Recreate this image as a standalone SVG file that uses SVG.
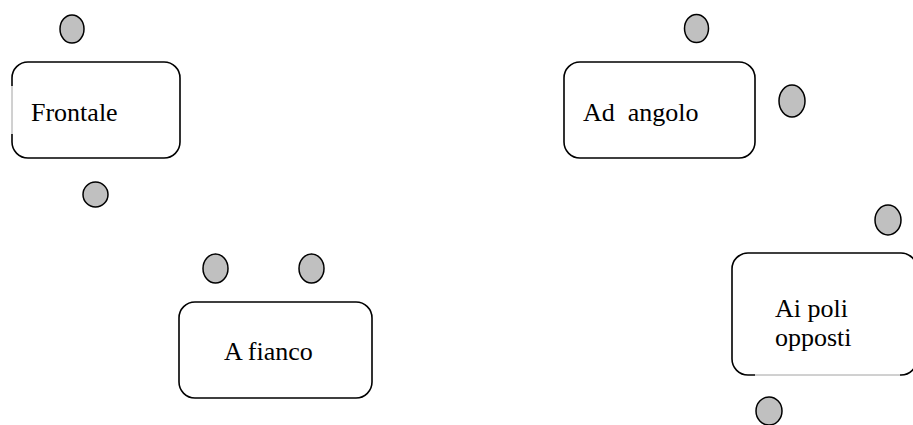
<svg xmlns="http://www.w3.org/2000/svg" width="913" height="425" viewBox="0 0 913 425">
  <style>
    .box { fill: #ffffff; stroke: #000000; stroke-width: 1.6; }
    .port { fill: #c0c0c0; stroke: #000000; stroke-width: 1.5; }
    .label { font-family: "Liberation Serif", "Times New Roman", serif; font-size: 26px; fill: #000000; }
    .faint { stroke: #ffffff; stroke-width: 2.2; fill: none; }
    .thin { stroke: #8a8a8a; stroke-width: 0.8; fill: none; }
  </style>
  <rect width="913" height="425" fill="#ffffff"/>

  <g id="frontale">
    <rect class="box" x="12" y="62" width="168" height="96" rx="16" ry="16"/>
    <line class="faint" x1="12" y1="86" x2="12" y2="134"/>
    <line class="thin" x1="12" y1="86" x2="12" y2="134"/>
    <text class="label" x="31" y="121">Frontale</text>
    <ellipse class="port" cx="72" cy="29" rx="12" ry="14"/>
    <ellipse class="port" cx="95.5" cy="194.5" rx="12.5" ry="12.5"/>
  </g>

  <g id="ad-angolo">
    <rect class="box" x="564" y="62" width="191" height="96" rx="16" ry="16"/>
    <text class="label" x="583" y="121" xml:space="preserve">Ad  angolo</text>
    <ellipse class="port" cx="696.5" cy="28.5" rx="12" ry="14"/>
    <ellipse class="port" cx="792" cy="101" rx="13" ry="16"/>
  </g>

  <g id="a-fianco">
    <rect class="box" x="179" y="302" width="193" height="96" rx="16" ry="16"/>
    <text class="label" x="224" y="360">A fianco</text>
    <ellipse class="port" cx="215.5" cy="268.5" rx="12.5" ry="14.5"/>
    <ellipse class="port" cx="311.5" cy="268.5" rx="12.5" ry="14.5"/>
  </g>

  <g id="ai-poli-opposti">
    <rect class="box" x="732" y="253" width="185" height="122" rx="16" ry="16"/>
    <line class="faint" x1="755" y1="375" x2="900" y2="375"/>
    <line class="thin" x1="755" y1="375" x2="900" y2="375"/>
    <text class="label" x="775" y="317">Ai poli</text>
    <text class="label" x="775" y="346">opposti</text>
    <ellipse class="port" cx="888" cy="220" rx="13" ry="15"/>
    <ellipse class="port" cx="769" cy="411" rx="13" ry="14"/>
  </g>

  <g id="connectors"/>
</svg>
